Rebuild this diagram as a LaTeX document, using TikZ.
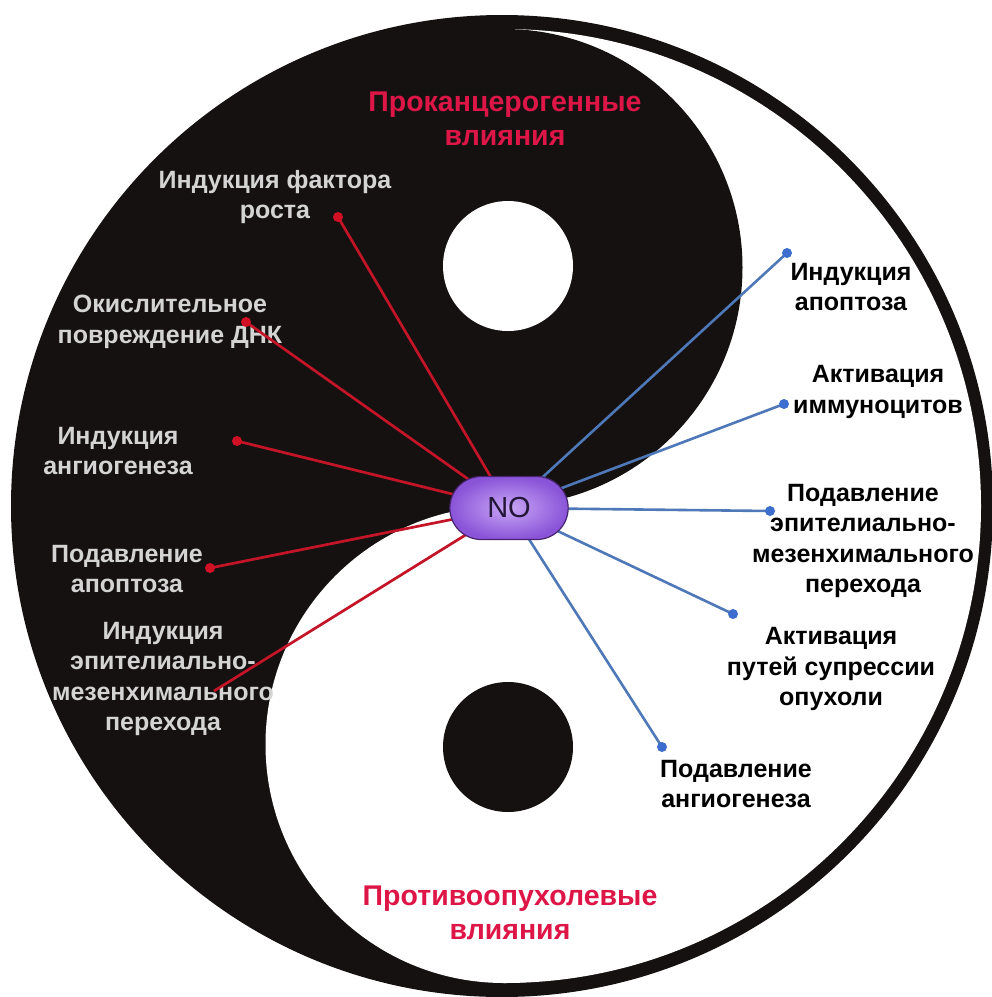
\documentclass[tikz,border=0pt]{standalone}
\usepackage{fontspec}
\setmainfont{Liberation Sans}
\usetikzlibrary{shapes.misc}
\pgfdeclarelayer{bg}
\pgfdeclarelayer{mid}
\pgfsetlayers{bg,mid,main}
\definecolor{yyblack}{RGB}{20,17,16}
\definecolor{lgray}{RGB}{212,212,212}
\definecolor{headred}{RGB}{222,22,72}
\definecolor{redline}{RGB}{196,20,40}
\definecolor{reddotc}{RGB}{210,16,36}
\definecolor{blueline}{RGB}{78,120,184}
\definecolor{bluedotc}{RGB}{60,110,205}
\definecolor{lavin}{RGB}{200,166,246}
\definecolor{lavout}{RGB}{138,84,216}
\definecolor{lavdraw}{RGB}{72,36,110}
\definecolor{notext}{RGB}{36,22,56}
\begin{document}
\begin{tikzpicture}[x=1pt,y=-1pt,
  lbl/.style={font=\fontsize{25}{30.5}\selectfont\bfseries, align=center, inner sep=0pt},
  lgrey/.style={lbl, text=lgray},
  rdark/.style={lbl, text=black},
  head/.style={font=\fontsize{28.5}{33.5}\selectfont\bfseries, align=center, text=headred, inner sep=0pt},
  redln/.style={draw=redline, line width=2.7pt},
  blueln/.style={draw=blueline, line width=2.6pt},
  rdot/.style={fill=reddotc},
  bdot/.style={fill=bluedotc},
  pill/.style={rounded rectangle, minimum width=125pt, minimum height=63pt,
     inner color=lavin, outer color=lavout, draw=lavdraw, line width=1.2pt,
     text=notext, font=\fontsize{29}{32}\selectfont}]
\useasboundingbox (0,0) rectangle (992,997);
\begin{pgfonlayer}{bg}
  \fill[white] (0,0) rectangle (992,997);
  % outer disk (gives the ring)
  \fill[yyblack] (502,506) circle (491);
  % right half of inner disk white
  \begin{scope}
    \clip (504,0) rectangle (1000,1000);
    \fill[white] (504,506) circle (477);
  \end{scope}
  % bulbs
  \fill[yyblack] (504,267.5) circle (238.5);
  \fill[white] (504,744.5) circle (238.5);
  % small eyes
  \fill[white] (508,266) circle (65);
  \fill[yyblack] (508,747) circle (65);

  % headings
  \node[head] (h1) at (505,119) {Проканцерогенные\\влияния};
  \node[head] (h2) at (510,913) {Противоопухолевые\\влияния};

  % left labels
  \node[lgrey] (l1) at (275,197) {Индукция фактора\\роста};
  \node[lgrey] (l2) at (170,322) {Окислительное\\повреждение ДНК};
  \node[lgrey] (l3) at (118,451) {Индукция\\ангиогенеза};
  \node[lgrey] (l4) at (127,569) {Подавление\\апоптоза};
  \node[lgrey] (l5) at (163,679) {Индукция\\эпителиально-\\мезенхимального\\перехода};

  % right labels
  \node[rdark] (r1) at (851,287) {Индукция\\апоптоза};
  \node[rdark] (r2) at (878,392) {Активация\\иммуноцитов};
  \node[rdark] (r3) at (863,541) {Подавление\\эпителиально-\\мезенхимального\\перехода};
  \node[rdark] (r4) at (831,669) {Активация\\путей супрессии\\опухоли};
  \node[rdark] (r5) at (736,784) {Подавление\\ангиогенеза};
\end{pgfonlayer}

% central node
\node[pill] (NO) at (509,508) {NO};

% connector ends
\coordinate (d1) at (338,217);
\coordinate (d2) at (246,322);
\coordinate (d3) at (237,441);
\coordinate (d4) at (210,568);
\coordinate (d5) at (214,691);
\coordinate (e1) at (787,253);
\coordinate (e2) at (784,404);
\coordinate (e3) at (770,511);
\coordinate (e4) at (733,614);
\coordinate (e5) at (662,747);

\begin{pgfonlayer}{mid}
  \foreach \d in {d1,d2,d3,d4,d5} \draw[redln] (NO.center) -- (\d);
  \foreach \d in {d1,d2,d3,d4} \fill[rdot] (\d) circle (5);
  \foreach \e in {e1,e2,e3,e4,e5} \draw[blueln] (NO.center) -- (\e);
  \foreach \e in {e1,e2,e3,e4,e5} \fill[bdot] (\e) circle (5);
\end{pgfonlayer}
\end{tikzpicture}
\end{document}
